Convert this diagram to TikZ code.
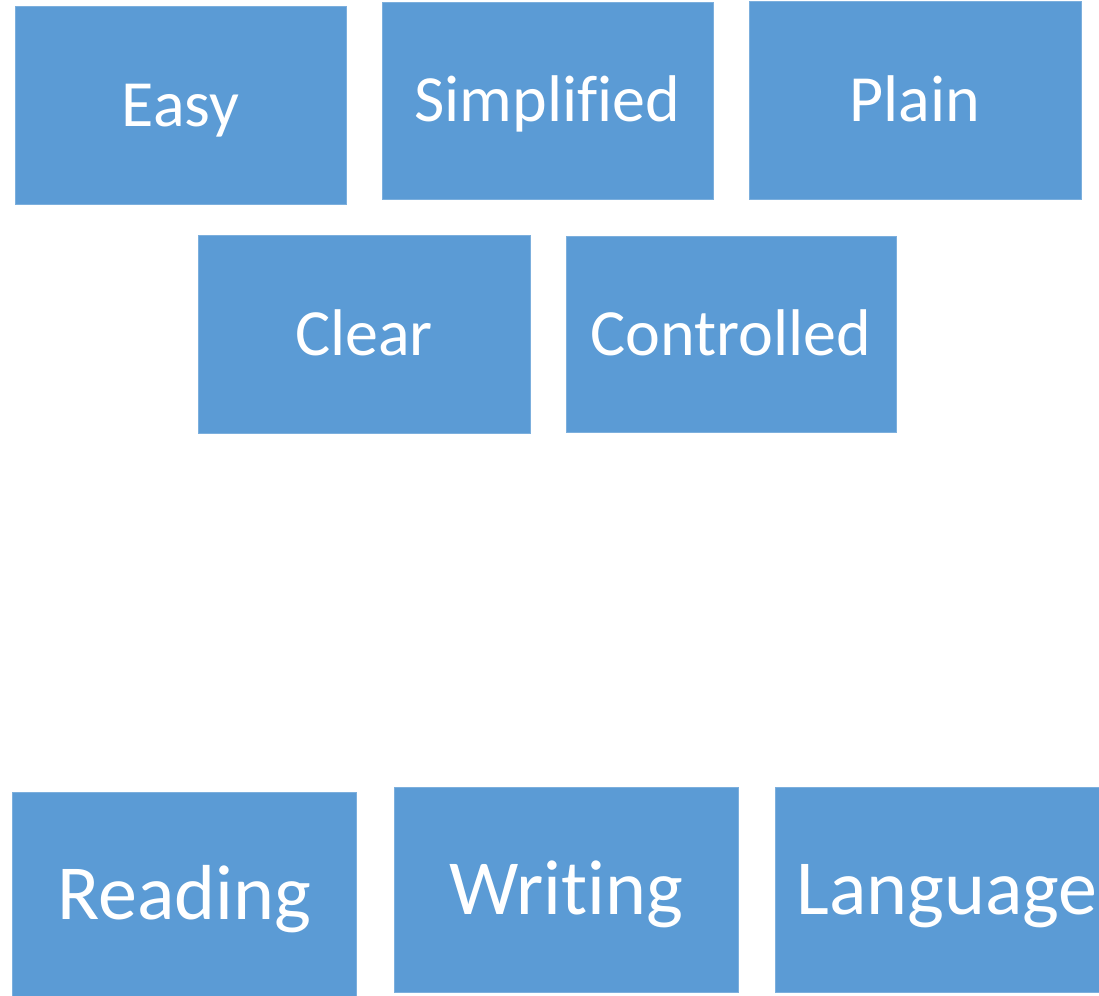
\documentclass[tikz,border=0pt]{standalone}
\usepackage{fontspec}
\setmainfont{Carlito}[Ligatures=NoCommon]
\definecolor{boxblue}{HTML}{5B9BD5}
\tikzset{
  tile/.style={fill=boxblue, draw=boxblue!80!white, line width=0.6pt,
    text=white, inner sep=0pt, text depth=0pt, align=center},
  small/.style={tile, font=\fontsize{66}{70}\selectfont, text height=42.5pt},
  big/.style={tile, font=\fontsize{78}{82}\selectfont, text height=50pt}
}
\begin{document}
\begin{tikzpicture}[x=1pt,y=-1pt]
  \useasboundingbox (0,0) rectangle (1099,995);
  \clip (0,0) rectangle (1099,995);
  % top row
  \node[small, minimum width=331pt, minimum height=198pt] (easy) at (180.5,105) {Easy};
  \node[small, minimum width=331pt, minimum height=197pt] (simplified) at (547.5,100.5) {Simplified};
  \node[small, minimum width=332pt, minimum height=198pt] (plain) at (915,100) {Plain};
  % middle row
  \node[small, minimum width=332pt, minimum height=198pt] (clear) at (364,334) {Clear};
  \node[small, minimum width=330pt, minimum height=196pt] (controlled) at (731,334) {Controlled};
  % bottom row
  \node[big, minimum width=344pt, minimum height=205pt] (reading) at (184,894.5) {Reading};
  \node[big, minimum width=344pt, minimum height=205pt] (writing) at (566,889.5) {Writing};
  \node[big, minimum width=344pt, minimum height=205pt] (language) at (947,889.5) {Language};
\end{tikzpicture}
\end{document}
